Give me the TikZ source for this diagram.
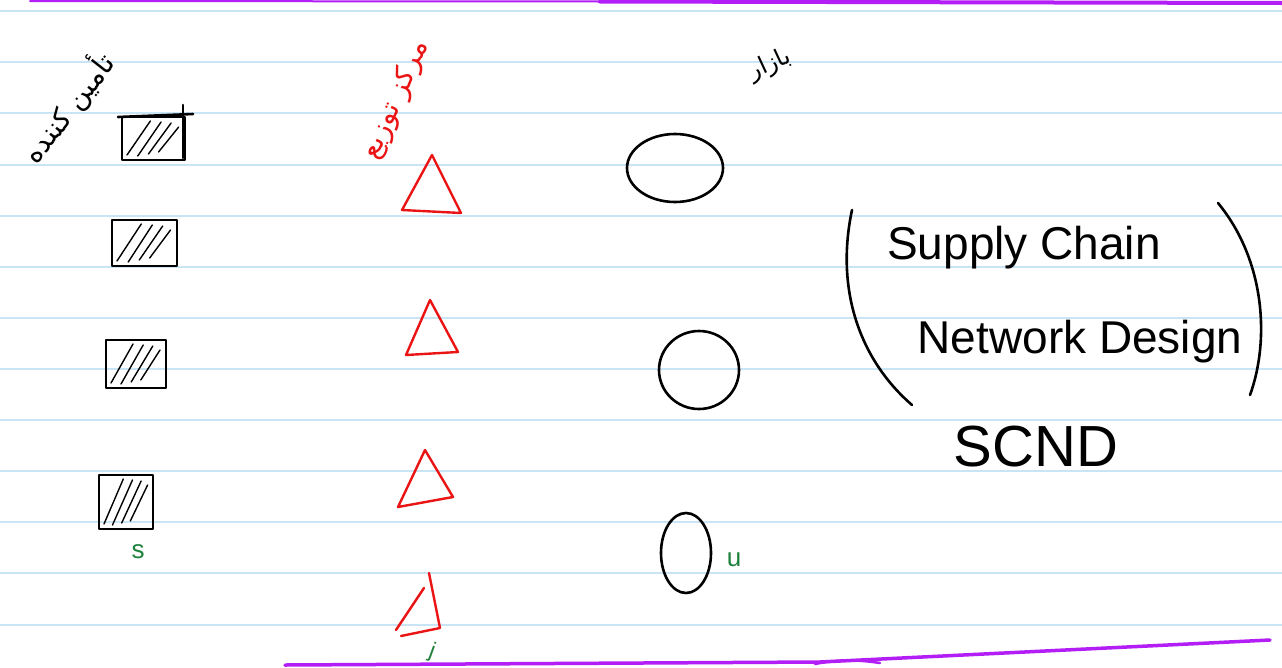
\documentclass[tikz,border=0pt]{standalone}
\usepackage{fontspec}
\setmainfont{Liberation Sans}
\newfontfamily\arabicfont[Script=Arabic]{DejaVu Sans}
\TeXXeTstate=1
\definecolor{paperline}{RGB}{200,228,245}
\definecolor{pen}{RGB}{178,30,245}
\definecolor{redpen}{RGB}{235,20,20}
\definecolor{greenpen}{RGB}{30,130,60}
\begin{document}
\begin{tikzpicture}[x=1pt,y=-1pt,
  ruled/.style={draw=paperline, line width=1.2pt},
  ink/.style={draw=black, line width=2.6pt, line cap=round, line join=round},
  redink/.style={draw=redpen, line width=2.4pt, line cap=round, line join=round},
  greenink/.style={text=greenpen},
  purpleink/.style={draw=pen, line width=3.5pt, line cap=round},
  hatch/.style={draw=black, line width=1.4pt, line cap=round},
  label/.style={font=\fontsize{46}{50}\selectfont, inner sep=0pt}]
\useasboundingbox (0,0) rectangle (1282,667);
\fill[white] (0,0) rectangle (1282,667);
% ruled lines
\foreach \y in {11,62,113,165,216,267,318,369,420,471,522,573,625}
  \draw[ruled] (0,\y) -- (1282,\y);
% purple lines
\draw[purpleink, line width=2pt] (30,1) -- (600,1.5);
\draw[purpleink, line width=4pt] (600,1.5) -- (1282,3);
\draw[purpleink] (285,665) -- (820,662) -- (1270,640);
\draw[purpleink, line width=2.5pt] (815,664) .. controls (840,659) and (860,660) .. (880,663);
% suppliers (squares)
\foreach \xa/\ya/\xb/\yb in {122/117/185/160, 112/220/177/266, 106/340/166/388, 99/475/153/529}{
  \draw[ink] (\xa,\ya) -- (\xb,\ya) -- (\xb,\yb) -- (\xa,\yb) -- cycle;
  \draw[hatch] ({\xa+5},{\yb-5}) -- ({\xa+0.45*(\xb-\xa)},{\ya+4});
  \draw[hatch] ({\xa+0.25*(\xb-\xa)},{\yb-4}) -- ({\xa+0.62*(\xb-\xa)},{\ya+5});
  \draw[hatch] ({\xa+0.42*(\xb-\xa)},{\yb-6}) -- ({\xa+0.78*(\xb-\xa)},{\ya+6});
  \draw[hatch] ({\xa+0.58*(\xb-\xa)},{\yb-8}) -- ({\xa+0.9*(\xb-\xa)},{\ya+10});
}
\draw[ink] (118,117) -- (193,114);
\draw[ink] (183,105) -- (183,158);
% distribution centres (triangles)
\draw[redink] (432,155) -- (402,210) -- (461,213) -- cycle;
\draw[redink] (430,300) -- (406,355) -- (458,352) -- cycle;
\draw[redink] (425,450) -- (398,507) -- (453,497) -- cycle;
\draw[redink] (424,588) -- (396,630);
\draw[redink] (429,573) -- (440,628) -- (401,636);
% customers (circles)
\draw[ink] (675,168) ellipse [x radius=48, y radius=34];
\draw[ink] (699,370) ellipse [x radius=40, y radius=39];
\draw[ink] (686,553) ellipse [x radius=25, y radius=40];
% parentheses
\draw[ink] (852,210) .. controls (835,290) and (860,360) .. (912,405);
\draw[ink] (1218,203) .. controls (1265,260) and (1270,340) .. (1250,395);
% text
\node[label] (sc) at (1024,248) {Supply Chain};
\node[label] (nd) at (1080,342) {Network Design};
\node[font=\fontsize{58}{60}\selectfont, inner sep=0pt] (scnd) at (1036,447) {SCND};
% Persian labels
\node[rotate=52, inner sep=0pt, font=\arabicfont\fontsize{28}{30}\selectfont] (sup) at (68,108) {\beginR تأمین کننده\endR};
\node[rotate=66, inner sep=0pt, text=redpen, font=\arabicfont\fontsize{28}{30}\selectfont] (dc) at (396,100) {\beginR مرکز توزیع\endR};
\node[rotate=25, inner sep=0pt, font=\arabicfont\fontsize{24}{26}\selectfont] (mkt) at (770,65) {\beginR بازار\endR};
% green indices
\node[greenink, font=\fontsize{26}{28}\selectfont] (gi) at (138,552) {s};
\node[greenink, font=\fontsize{26}{28}\selectfont] (gk) at (734,560) {u};
\node[greenink, rotate=-20, font=\fontsize{22}{24}\selectfont] (gj) at (432,652) {j};
\end{tikzpicture}
\end{document}
